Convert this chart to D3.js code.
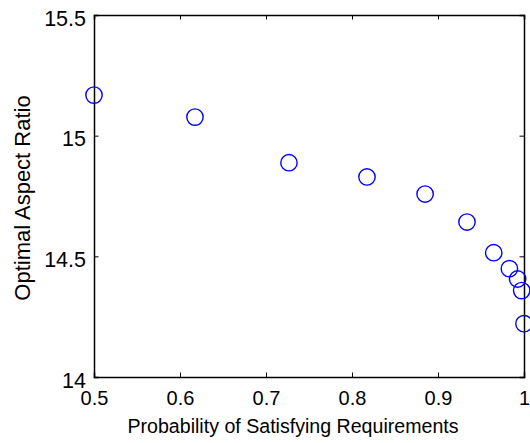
<!DOCTYPE html>
<html><head><meta charset="utf-8">
<script src="https://cdn.jsdelivr.net/npm/d3@7"></script>
<style>body{margin:0;background:#fff}svg{display:block}text{font-family:"Liberation Sans",Arial,Helvetica,sans-serif}</style>
</head><body><svg id="c" width="530" height="443"></svg>
<script>
const probability = [0.5, 0.6174, 0.7267, 0.8174, 0.885, 0.9337, 0.9648, 0.983, 0.9926, 0.9973, 1.0];
const aspectRatio = [15.168, 15.077, 14.888, 14.829, 14.758, 14.642, 14.515, 14.449, 14.406, 14.358, 14.221];
const xTicks = [0.5, 0.6, 0.7, 0.8, 0.9, 1];
const yTicks = [14, 14.5, 15, 15.5];
const xLabel = "Probability of Satisfying Requirements";
const yLabel = "Optimal Aspect Ratio";

const svg = d3.select("#c");
const L = 94, R = 524, T = 15, B = 377;
const x = d3.scaleLinear().domain([0.5, 1]).range([L, R]);
const y = d3.scaleLinear().domain([14, 15.5]).range([B, T]);
const font = '"Liberation Sans",Arial,sans-serif';

const axB = d3.axisBottom(x).tickValues(xTicks).tickSize(-4.5).tickPadding(14).tickFormat(d3.format("~g"));
const axT = d3.axisTop(x).tickValues(xTicks).tickSize(-4.5).tickFormat("");
const axLf = d3.axisLeft(y).tickValues(yTicks).tickSize(-4.5).tickPadding(8).tickFormat(d3.format("~g"));
const axRt = d3.axisRight(y).tickValues(yTicks).tickSize(-4.5).tickFormat("");

function style(fs, dy){
  return function(g){
    g.selectAll("path.domain").attr("stroke","#000").attr("stroke-width",1.5);
    g.selectAll(".tick line").attr("stroke","#000").attr("stroke-width",1);
    const t = g.selectAll("text").attr("font-size",fs).attr("fill","#000").attr("font-family",font);
    if (dy) t.attr("dy", dy);
  };
}
svg.append("g").attr("transform",`translate(0,${B})`).call(axB).call(style(20));
svg.append("g").attr("transform",`translate(0,${T})`).call(axT).call(style(20));
svg.append("g").attr("transform",`translate(${L},0)`).call(axLf).call(style(21.5, "0.47em"));
svg.append("g").attr("transform",`translate(${R},0)`).call(axRt).call(style(21.5));
svg.selectAll("g path.domain").attr("d", function(){ return d3.select(this).attr("d").replace(/V-?\d+(\.\d+)?V0/,"V0"); });

svg.append("g").selectAll("circle").data(probability).join("circle")
  .attr("cx",(d)=>x(d)).attr("cy",(d,i)=>y(aspectRatio[i])).attr("r",8.2)
  .attr("fill","none").attr("stroke","#0000ff").attr("stroke-width",1.4);

svg.append("text").attr("x",(L+R)/2 - 16).attr("y",432.5).attr("text-anchor","middle").attr("font-size",19.6).attr("font-family",font).text(xLabel);
svg.append("text").attr("transform",`translate(29.5,198) rotate(-90)`).attr("text-anchor","middle").attr("font-size",22).attr("font-family",font).text(yLabel);
</script></body></html>
